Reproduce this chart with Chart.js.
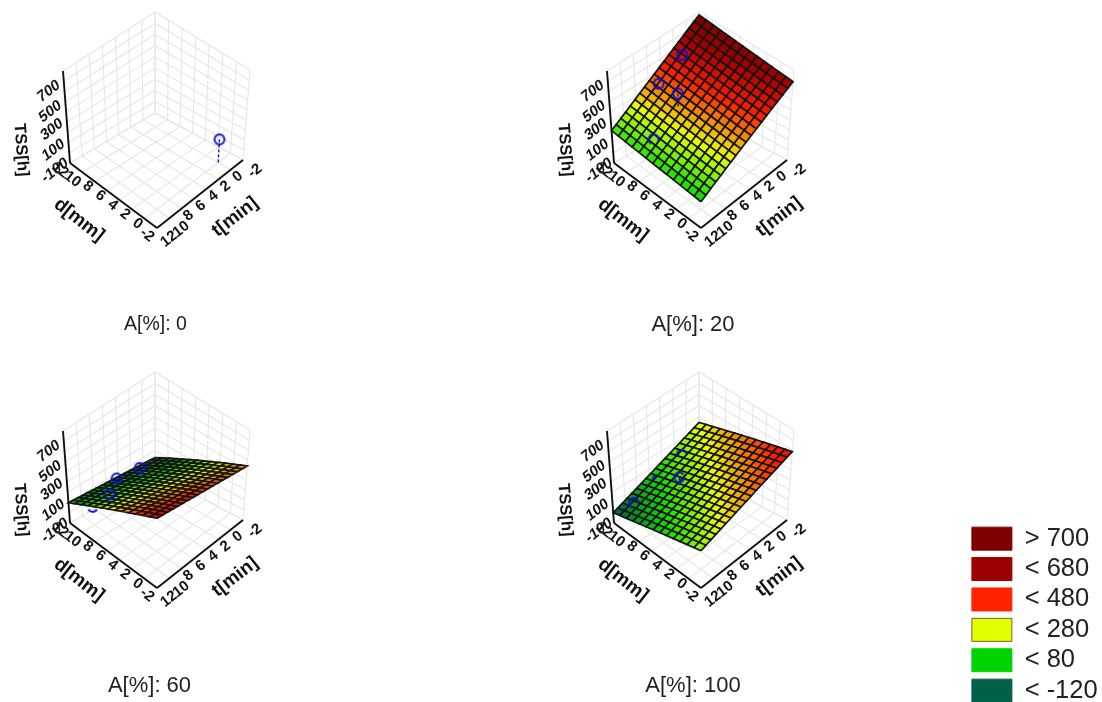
<!DOCTYPE html>
<html>
<head>
<meta charset="utf-8">
<title>TSS surfaces</title>
<script src="https://cdn.jsdelivr.net/npm/chart.js@4"></script>
<style>
html, body { margin: 0; padding: 0; background: #fff; overflow: hidden; width: 1102px; height: 702px; }
canvas { filter: blur(0.35px); }
#plots { position: absolute; left: 0; top: 0; }
#key { position: absolute; left: 967px; top: 521px; }
</style>
</head>
<body>
<canvas id="plots" width="1102" height="702"></canvas>
<canvas id="key" width="135" height="200"></canvas>
<script>
// axis ticks
var tTicks = [-2, 0, 2, 4, 6, 8, 10, 12];
var dTicks = [-2, 0, 2, 4, 6, 8, 10, 12];
var zTicks = [-100, 100, 300, 500, 700];
var zLines = [-100, 0, 100, 200, 300, 400, 500, 600, 700, 800];
var panelTitles = ['A[%]: 0', 'A[%]: 20', 'A[%]: 60', 'A[%]: 100'];

// surface height at the corners: front, right, left, back (A=0 lies under the floor, not drawn)
var surfaceA0 = null;
var surfaceA20 = [175, 683, 216, 775];
var surfaceA60 = [630, 440, 98, 38];
var surfaceA100 = [290, 584, 0, 350];

// measured points
var pointsA0T = [0];
var pointsA0D = [0];
var pointsA0Z = [130];
var pointsA0Foot = [-100];
var pointsA20T = [2, 5.5, 6.15, 10.1];
var pointsA20D = [10.6, 10.85, 7.25, 7.25];
var pointsA20Z = [615, 472, 558, 277];
var pointsA20Foot = [615, 472, 428, 277];
var pointsA60T = [8.7, 6.1, 1.4, 10.25];
var pointsA60D = [8.65, 10.1, 11.1, 9.9];
var pointsA60Z = [204, 197, 88, 89];
var pointsA60Foot = [204, 138, 81, 89];
var pointsA100T = [9.9, 6.1, 6.2, 2.4];
var pointsA100D = [10.7, 10.5, 7.05, 10.4];
var pointsA100Z = [78, 175, 339, 269];
var pointsA100Foot = [78, 175, 239, 269];

// legend
var legendLabels = ['> 700', '< 680', '< 480', '< 280', '< 80', '< -120'];
var legendColors = ['#7f0000', '#9c0000', '#ff2400', '#e4ff00', '#00d400', '#006048'];

// colour ramp of the surface
var rampLevels = [10, 190, 350, 530, 670, 800];
var rampColors = [[0, 96, 64], [20, 225, 0], [232, 255, 0], [255, 32, 0], [165, 0, 0], [112, 0, 0]];

var meshT = 18;
var meshD = 13;
var panelOffsets = [[0, 0], [544, 0], [0, 360], [544, 360]];
var titleSpots = [[155.5, 325], [693, 325], [149.5, 686], [693, 686]];
var titleSizes = [19.5, 22, 22, 22];

// the box of one plot as it looks on the page
var floorBox = { front: [157, 228], right: [243, 160], left: [70, 163], back: [155, 113] };
var topBox = { front: [157, 142], right: [250, 70], left: [63, 71], back: [155, 12] };

function mix(a, b, f) { return a + (b - a) * f; }

function project(panel, t, d, z) {
    var s = (12 - t) / 14, r = (d + 2) / 14, w = (z + 100) / 900;
    var out = [0, 0];
    for (var i = 0; i < 2; i++) {
        var lo = mix(mix(floorBox.front[i], floorBox.right[i], s), mix(floorBox.left[i], floorBox.back[i], s), r);
        var hi = mix(mix(topBox.front[i], topBox.right[i], s), mix(topBox.left[i], topBox.back[i], s), r);
        out[i] = mix(lo, hi, w) + panelOffsets[panel][i];
    }
    return { x: out[0], y: out[1] };
}

function surfaceAt(c, s, r) {
    return mix(mix(c[0], c[1], s), mix(c[2], c[3], s), r);
}

function rampColor(v) {
    if (v <= rampLevels[0]) return 'rgb(' + rampColors[0].join(',') + ')';
    for (var i = 1; i < rampLevels.length; i++) {
        if (v <= rampLevels[i]) {
            var f = (v - rampLevels[i - 1]) / (rampLevels[i] - rampLevels[i - 1]);
            var c = rampColors[i - 1], e = rampColors[i];
            return 'rgb(' + Math.round(mix(c[0], e[0], f)) + ',' + Math.round(mix(c[1], e[1], f)) + ',' + Math.round(mix(c[2], e[2], f)) + ')';
        }
    }
    return 'rgb(' + rampColors[rampColors.length - 1].join(',') + ')';
}

function lineSet(points, color, width, order, dash) {
    return {
        type: 'line', data: points, borderColor: color, borderWidth: width, order: order,
        pointRadius: 0, tension: 0, fill: false, borderDash: dash || [], clip: false
    };
}

// open ring, only the part of a marker that stays in front of the surface
function ringImage(from, to) {
    var c = document.createElement('canvas');
    c.width = 14; c.height = 14;
    var g = c.getContext('2d');
    g.strokeStyle = '#1010c8';
    g.lineWidth = 2;
    g.beginPath();
    g.arc(7, 7, 4.9, from * Math.PI / 180, to * Math.PI / 180);
    g.stroke();
    return c;
}

var datasets = [];

function addBox(panel) {
    var wall = '#e6e6e6';
    tTicks.forEach(function (t) {
        datasets.push(lineSet([project(panel, t, 12, -100), project(panel, t, 12, 800)], wall, 1.1, 100));
        datasets.push(lineSet([project(panel, t, -2, -100), project(panel, t, 12, -100)], wall, 1.1, 100));
    });
    dTicks.forEach(function (d) {
        datasets.push(lineSet([project(panel, -2, d, -100), project(panel, -2, d, 800)], wall, 1.1, 100));
        datasets.push(lineSet([project(panel, -2, d, -100), project(panel, 12, d, -100)], wall, 1.1, 100));
    });
    zLines.forEach(function (z) {
        datasets.push(lineSet([project(panel, 12, 12, z), project(panel, -2, 12, z)], wall, 1.1, 100));
        datasets.push(lineSet([project(panel, -2, 12, z), project(panel, -2, -2, z)], wall, 1.1, 100));
    });
    datasets.push(lineSet([project(panel, 12, 12, -100), project(panel, 12, 12, 800)], '#111', 1.9, 90));
    datasets.push(lineSet([project(panel, 12, 12, -100), project(panel, 12, -2, -100)], '#111', 1.9, 90));
    datasets.push(lineSet([project(panel, 12, -2, -100), project(panel, -2, -2, -100)], '#111', 1.9, 90));
}

function addSurface(panel, corners) {
    if (!corners) return;
    for (var i = 0; i < meshT; i++) {
        for (var j = 0; j < meshD; j++) {
            var s0 = i / meshT, s1 = (i + 1) / meshT, r0 = j / meshD, r1 = (j + 1) / meshD;
            var cell = [[s0, r0], [s1, r0], [s1, r1], [s0, r1], [s0, r0]].map(function (p) {
                return project(panel, 12 - 14 * p[0], -2 + 14 * p[1], surfaceAt(corners, p[0], p[1]));
            });
            var set = lineSet(cell, '#141414', 1.7, 50);
            set.fill = 'shape';
            set.backgroundColor = rampColor(surfaceAt(corners, (s0 + s1) / 2, (r0 + r1) / 2));
            datasets.push(set);
        }
    }
}

function addPoints(panel, ts, ds, zs, foots, arcs) {
    ts.forEach(function (t, k) {
        if (foots[k] !== zs[k]) {
            datasets.push(lineSet([project(panel, t, ds[k], zs[k]), project(panel, t, ds[k], foots[k])], '#1414c8', 1.4, 10, [3, 2]));
        }
        datasets.push({
            type: 'line', data: [project(panel, t, ds[k], zs[k])], showLine: false, order: 5, clip: false,
            pointRadius: 6, pointStyle: ringImage(arcs[k][0], arcs[k][1])
        });
    });
}

var full = [0, 360];
addBox(0); addBox(1); addBox(2); addBox(3);
addSurface(1, surfaceA20);
addSurface(2, surfaceA60);
addSurface(3, surfaceA100);
addPoints(0, pointsA0T, pointsA0D, pointsA0Z, pointsA0Foot, [full]);
addPoints(1, pointsA20T, pointsA20D, pointsA20Z, pointsA20Foot, [full, full, full, [120, 380]]);
addPoints(2, pointsA60T, pointsA60D, pointsA60Z, pointsA60Foot, [full, full, full, [30, 150]]);
addPoints(3, pointsA100T, pointsA100D, pointsA100Z, pointsA100Foot, [[110, 350], [170, 240], [0, 330], [170, 350]]);

function tiltedText(ctx, text, x, y, angle, skew, font) {
    ctx.save();
    ctx.translate(x, y);
    ctx.rotate(angle * Math.PI / 180);
    ctx.transform(1, 0, skew, 1, 0, 0);
    ctx.font = font;
    ctx.fillStyle = '#111';
    ctx.textAlign = 'center';
    ctx.textBaseline = 'middle';
    ctx.fillText(text, 0, 0);
    ctx.restore();
}

var textPlugin = {
    id: 'boxText',
    afterDatasetsDraw: function (chart) {
        var ctx = chart.ctx, xs = chart.scales.x, ys = chart.scales.y;
        var tickFont = 'bold 15px "Liberation Sans"', titleFont = 'bold 19px "Liberation Sans"';
        function at(p, dx, dy) { return [xs.getPixelForValue(p.x + dx), ys.getPixelForValue(p.y + dy)]; }
        for (var panel = 0; panel < 4; panel++) {
            dTicks.forEach(function (d) {
                var wide = String(d).length > 1;
                var q = at(project(panel, 12, d, -100), wide ? -10 : -7, wide ? 7 : 5);
                tiltedText(ctx, String(d), q[0], q[1], 38, 0, tickFont);
            });
            tTicks.forEach(function (t) {
                var wide = String(t).length > 1;
                var q = at(project(panel, t, -2, -100), wide ? 12 : 7, wide ? 11 : 7);
                tiltedText(ctx, String(t), q[0], q[1], -38, 0, tickFont);
            });
            zTicks.forEach(function (z) {
                var q = at(project(panel, 12, 12, z), -15, z > 400 ? 10 : 7.5);
                tiltedText(ctx, String(z), q[0], q[1], -38, -0.2, tickFont);
            });
            var o = panelOffsets[panel];
            var c = at({ x: 79 + o[0], y: 220 + o[1] }, 0, 0);
            tiltedText(ctx, 'd[mm]', c[0], c[1], 38, 0, titleFont);
            c = at({ x: 235 + o[0], y: 217 + o[1] }, 0, 0);
            tiltedText(ctx, 't[min]', c[0], c[1], -38, 0, titleFont);
            c = at({ x: 21 + o[0], y: 150 + o[1] }, 0, 0);
            tiltedText(ctx, 'TSS[h]', c[0], c[1], 86, 0, 'bold 16.5px "Liberation Sans"');
            c = at({ x: titleSpots[panel][0], y: titleSpots[panel][1] }, 0, 0);
            ctx.save();
            ctx.font = titleSizes[panel] + 'px "Liberation Sans"';
            ctx.fillStyle = '#222';
            ctx.textAlign = 'center';
            ctx.textBaseline = 'middle';
            ctx.fillText(panelTitles[panel], c[0], c[1]);
            ctx.restore();
        }
    }
};

new Chart('plots', {
    type: 'line',
    data: { datasets: datasets },
    plugins: [textPlugin],
    options: {
        responsive: false,
        animation: false,
        events: [],
        layout: { padding: 0, autoPadding: false },
        plugins: { legend: { display: false }, tooltip: { enabled: false } },
        scales: {
            x: { type: 'linear', display: false, min: 0, max: 1102 },
            y: { type: 'linear', display: false, min: 0, max: 702, reverse: true }
        }
    }
});

new Chart('key', {
    type: 'bar',
    data: {
        labels: [],
        datasets: legendLabels.map(function (label, i) {
            return { label: label, data: [], backgroundColor: legendColors[i], borderColor: i === 3 ? '#6a6a20' : legendColors[i], borderWidth: 1 };
        })
    },
    options: {
        responsive: false,
        animation: false,
        events: [],
        layout: { padding: 0, autoPadding: false },
        scales: { x: { display: false }, y: { display: false } },
        plugins: {
            tooltip: { enabled: false },
            legend: {
                position: 'left',
                align: 'start',
                maxWidth: 135,
                labels: {
                    boxWidth: 40, boxHeight: 23, padding: 4.9, color: '#222',
                    font: { size: 25.5, family: '"Liberation Sans"', lineHeight: 1 }
                }
            }
        }
    }
});
</script>
</body>
</html>
